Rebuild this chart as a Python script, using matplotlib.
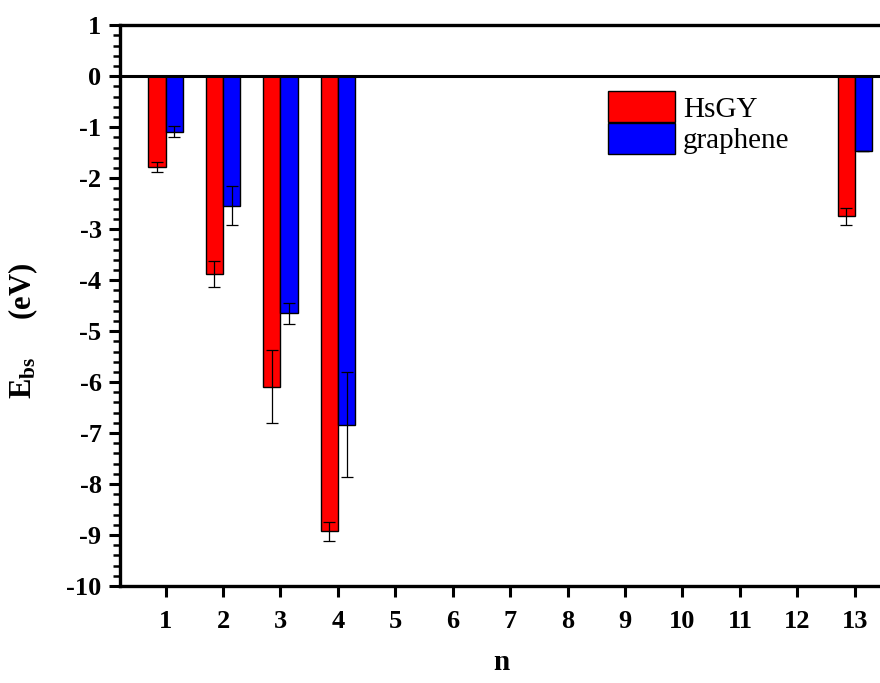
import numpy as np
import matplotlib
matplotlib.use("Agg")
import matplotlib.pyplot as plt
from matplotlib.ticker import MultipleLocator

plt.rcParams['font.family'] = ['Liberation Serif', 'DejaVu Serif']
plt.rcParams['mathtext.fontset'] = 'custom'
plt.rcParams['mathtext.bf'] = 'Liberation Serif:bold'
plt.rcParams['mathtext.rm'] = 'Liberation Serif'
plt.rcParams['axes.unicode_minus'] = False

# data
n = [1, 2, 3, 4, 13]
hsgy = [-1.78, -3.88, -6.09, -8.93, -2.75]
hsgy_err = [0.10, 0.25, 0.72, 0.18, 0.17]
graphene = [-1.09, -2.54, -4.65, -6.84, -1.47]
graphene_err = [0.11, 0.38, 0.21, 1.03, 0.0]
xticks = list(range(1, 14))

fig = plt.figure(figsize=(8.8, 6.83), dpi=100)
ax = fig.add_axes([0.136, 0.142, 0.864, 0.821])

x = np.array(n)
w = 0.3
ax.bar(x - w / 2, hsgy, w, color='#ff0000', edgecolor='black', linewidth=1.0, label='HsGY', zorder=2)
ax.bar(x + w / 2, graphene, w, color='#0000ff', edgecolor='black', linewidth=1.0, label='graphene', zorder=2)
ax.errorbar(x - w / 2, hsgy, yerr=hsgy_err, fmt='none', ecolor='black', elinewidth=0.9, capsize=4, capthick=0.9, zorder=3)
ax.errorbar(x + w / 2, graphene, yerr=graphene_err, fmt='none', ecolor='black', elinewidth=0.9, capsize=4, capthick=0.9, zorder=3)

ax.axhline(0, color='black', linewidth=2.2, zorder=4)

ax.set_xlim(0.2, 13.44)
ax.set_ylim(-10, 1)
ax.set_xticks(xticks)
ax.yaxis.set_major_locator(MultipleLocator(1))
ax.yaxis.set_minor_locator(MultipleLocator(0.2))

for s in ['left', 'bottom', 'top']:
    ax.spines[s].set_linewidth(2.4)
ax.spines['right'].set_visible(False)

ax.tick_params(axis='both', which='major', direction='out', length=8, width=2.2,
               labelsize=19, pad=5)
ax.tick_params(axis='y', which='minor', direction='out', length=5, width=1.8)
ax.tick_params(axis='x', which='minor', bottom=False)
ax.tick_params(axis='x', which='major', pad=9)
for lab in ax.get_xticklabels() + ax.get_yticklabels():
    lab.set_fontweight('bold')

ax.set_xlabel('n', fontsize=21, fontweight='bold', va='top')
ax.xaxis.set_label_coords(0.502, -0.112)
ax.set_ylabel(r'$\mathbf{E_{bs}}$     (eV)', fontsize=22, fontweight='bold')
ax.yaxis.set_label_coords(-0.105, 0.455)

leg = ax.legend(loc='upper left', bbox_to_anchor=(0.642, 0.882), frameon=False,
                fontsize=21, handlelength=2.3, handleheight=1.25, handletextpad=0.28,
                labelspacing=0.0, borderaxespad=0, borderpad=0)

fig.savefig('out.png', dpi=100)
